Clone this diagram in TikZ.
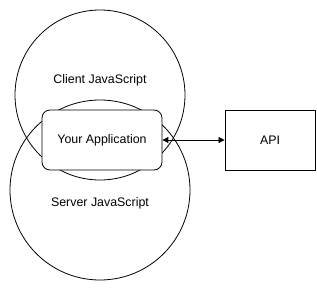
\documentclass[tikz,border=0pt]{standalone}
\usepackage{fontspec}
\setmainfont{Liberation Sans}
\usetikzlibrary{arrows.meta}
\tikzset{
  layer/.style={
    shape = circle,
    draw,
    inner sep = 0pt
  },
  appbox/.style={
    draw,
    fill = white,
    rounded corners = 8pt,
    minimum width = 120pt,
    minimum height = 60pt
  },
  servicebox/.style={
    draw,
    fill = white,
    minimum width = 90pt,
    minimum height = 60pt
  },
  every picture/.style = {
    x = 1pt,
    y = -1pt,
    line width = 0.8pt,
    font = \fontsize{12.4pt}{14pt}\selectfont
  }
}
\begin{document}
\begin{tikzpicture}
  \useasboundingbox (0,0) rectangle (317,290);
  \node[layer, minimum size=170pt] (client) at (100,95) {};
  \node[layer, minimum size=180pt] (server) at (100,190) {};
  \node (clientlabel) at (100,80) {Client JavaScript};
  \node (serverlabel) at (100,203) {Server JavaScript};
  \node[appbox] (app) at (102,140) {Your Application};
  \node[servicebox] (api) at (270,140) {API};
  \draw[{Triangle[length=6pt,width=6pt]}-{Triangle[length=6pt,width=6pt]}] (app) -- (api);
\end{tikzpicture}
\end{document}
